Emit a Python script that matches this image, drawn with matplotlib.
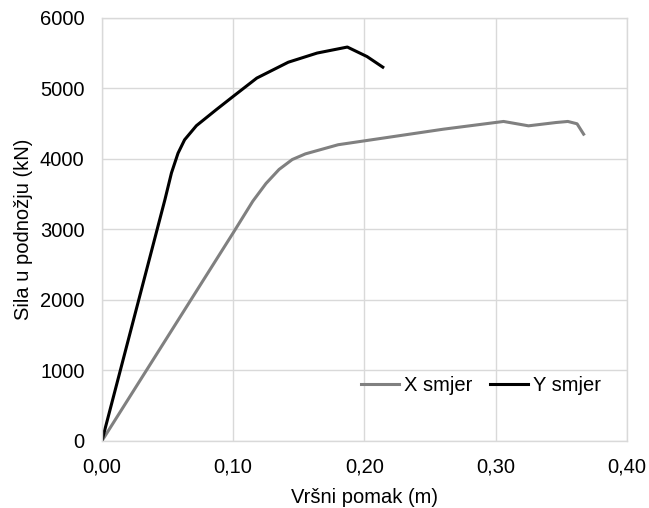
import matplotlib
matplotlib.use('Agg')
import matplotlib.pyplot as plt
from matplotlib.ticker import FuncFormatter

plt.rcParams['font.family'] = ['Liberation Sans', 'DejaVu Sans']

# ── data ─────────────────────────────────────────────────────────────────────
x_disp = [0.000, 0.100, 0.115, 0.125, 0.135, 0.145, 0.155, 0.180, 0.220,
          0.260, 0.306, 0.325, 0.346, 0.355, 0.362, 0.367]
x_force = [0, 2950, 3400, 3650, 3850, 3990, 4070, 4200, 4310,
           4420, 4530, 4468, 4515, 4530, 4497, 4350]

y_disp = [0.000, 0.048, 0.053, 0.058, 0.063, 0.072, 0.087, 0.100, 0.118,
          0.142, 0.164, 0.187, 0.202, 0.214]
y_force = [0, 3420, 3800, 4080, 4270, 4470, 4695, 4885, 5145,
           5370, 5500, 5585, 5450, 5300]

# ── plot ─────────────────────────────────────────────────────────────────────
fs = 14.5
fig = plt.figure(figsize=(6.49, 5.08), dpi=100)
ax = fig.add_axes([0.157, 0.132, 0.809, 0.833])

ax.plot(x_disp, x_force, color='#808080', linewidth=2.2, label='X smjer',
        solid_joinstyle='round')
ax.plot(y_disp, y_force, color='black', linewidth=2.2, label='Y smjer',
        solid_joinstyle='round')

ax.set_xlim(0, 0.40)
ax.set_ylim(0, 6000)
ax.set_xticks([0, 0.1, 0.2, 0.3, 0.4])
ax.set_yticks(range(0, 6001, 1000))
ax.xaxis.set_major_formatter(FuncFormatter(lambda v, _: f'{v:.2f}'.replace('.', ',')))
ax.grid(True, color='#d9d9d9', linewidth=1)
ax.set_axisbelow(True)
for sp in ax.spines.values():
    sp.set_color('#d9d9d9')
    sp.set_linewidth(1)
ax.tick_params(axis='y', length=0, labelsize=fs, pad=12.5)
ax.tick_params(axis='x', length=0, labelsize=fs, pad=12)

ax.set_xlabel('Vršni pomak (m)', fontsize=fs, labelpad=8)
ax.set_ylabel('Sila u podnožju (kN)', fontsize=fs, labelpad=5)

ax.legend(loc='center', bbox_to_anchor=(0.722, 0.132), ncol=2, frameon=False,
          fontsize=fs, handlelength=1.9, handletextpad=0.25, columnspacing=0.85)

fig.savefig('out.png', dpi=100)
